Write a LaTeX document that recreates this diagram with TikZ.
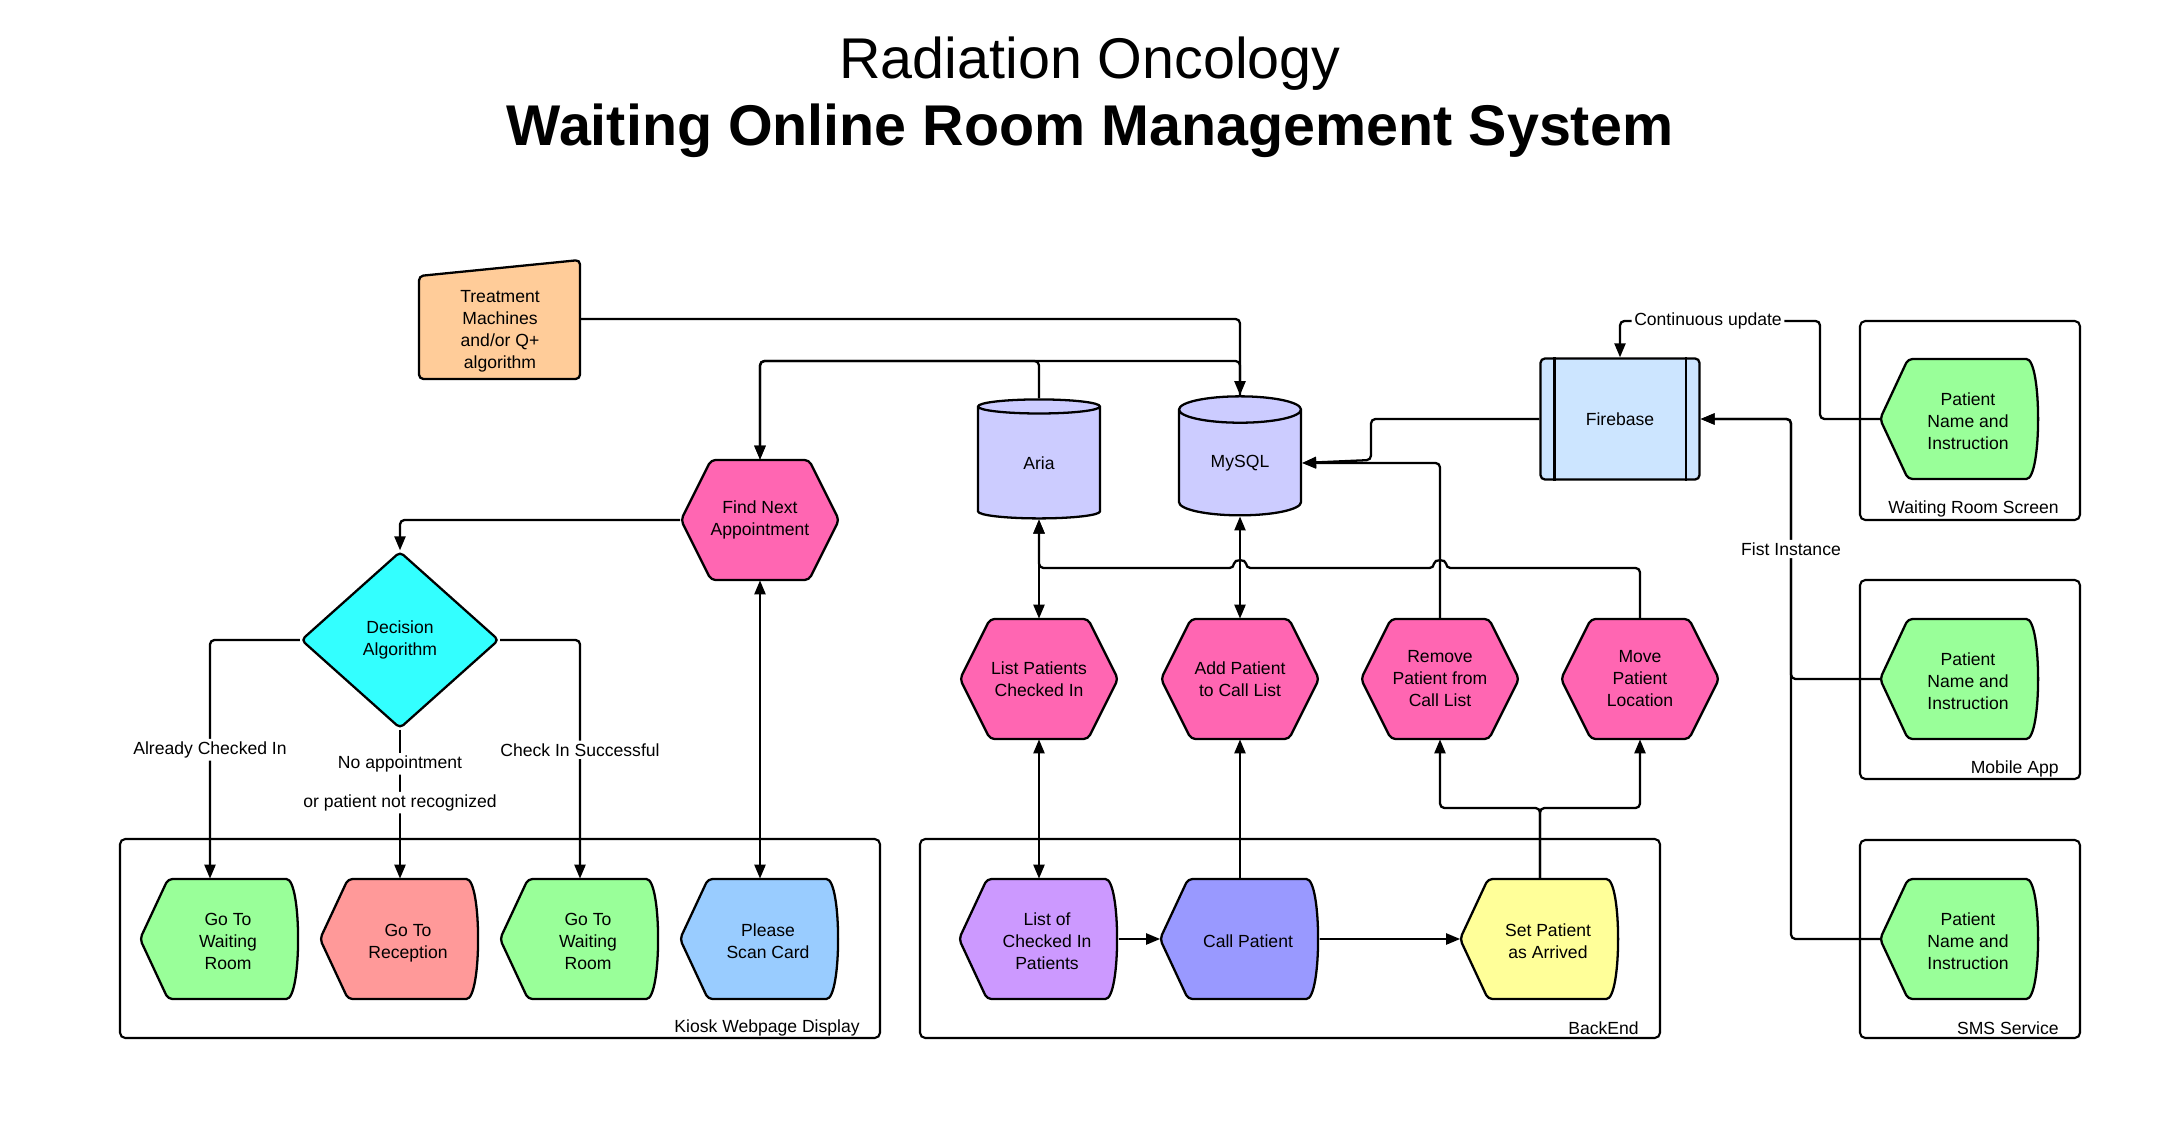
\documentclass[tikz,border=0pt]{standalone}
\usepackage{fontspec}
\setmainfont{Liberation Sans}
\usetikzlibrary{shapes.geometric,arrows.meta}

\definecolor{machineorange}{HTML}{FFCC99}
\definecolor{stephex}{HTML}{FF66B2}
\definecolor{decisioncyan}{HTML}{33FFFF}
\definecolor{okgreen}{HTML}{99FF99}
\definecolor{alertred}{HTML}{FF9999}
\definecolor{scanblue}{HTML}{99CCFF}
\definecolor{dblavender}{HTML}{CCCCFF}
\definecolor{listpurple}{HTML}{CC99FF}
\definecolor{callblue}{HTML}{9999FF}
\definecolor{arrivedyellow}{HTML}{FFFF99}
\definecolor{firebaseblue}{HTML}{CCE5FF}

\tikzset{
  outline/.style={draw=black, line width=1.3pt, rounded corners=2.5pt},
  boxtext/.style={align=center, inner sep=0pt, minimum width=3.18cm, minimum height=2.4cm},
  decision/.style={diamond, draw=black, line width=1.3pt, rounded corners=2.5pt, fill=decisioncyan, align=center, inner sep=0pt, minimum width=3.96cm, minimum height=3.54cm},
  database/.style={cylinder, shape border rotate=90, aspect=0.45, draw=black, line width=1.3pt, fill=dblavender, inner sep=0pt, minimum width=2.44cm, minimum height=2.38cm},
  process/.style={rectangle, draw=black, line width=1.3pt, rounded corners=2.5pt, fill=firebaseblue, minimum width=3.18cm, minimum height=2.42cm},
  link/.style={line width=1.3pt, rounded corners=2.5pt, ->},
  twoway/.style={line width=1.3pt, <->},
  lbl/.style={fill=white, inner sep=1.5pt},
  group/.style={draw=black, line width=1.2pt, rounded corners=3pt},
  grouplabel/.style={anchor=east, inner sep=0pt},
}

\newcommand{\hexat}[2]{%
  \begin{scope}[shift={(#1)}]
    \filldraw[outline, fill=#2] (-79,0) -- (-49,-60) -- (49,-60) -- (79,0) -- (49,60) -- (-49,60) -- cycle;
  \end{scope}}
\newcommand{\dispat}[2]{%
  \begin{scope}[shift={(#1)}]
    \filldraw[outline, fill=#2] (-80,0) -- (-52,-60) -- (62,-60) .. controls (82,-60) and (82,60) .. (62,60) -- (-52,60) -- cycle;
  \end{scope}}
\newcommand{\dtext}[1]{\hspace*{0.32cm}\raisebox{-2.5pt}[\height][\depth]{\begin{tabular}{@{}c@{}}#1\end{tabular}}}

\begin{document}
\begin{tikzpicture}[x=0.02cm, y=-0.02cm, >={Triangle[length=0.28cm, width=0.22cm]},
  every node/.style={font=\fontsize{10}{12.5}\selectfont}]
\useasboundingbox (0,0) rectangle (2167,1138);

\node[anchor=base, font=\fontsize{32.7}{39}\selectfont] (title) at (1090,79) {Radiation Oncology};
\node[anchor=base, font=\fontsize{32.7}{39}\selectfont\bfseries] (subtitle) at (1090,146) {Waiting Online Room Management System};

\draw[group] (120,839) rectangle (880,1038);
\draw[group] (920,839) rectangle (1660,1038);
\draw[group] (1860,321) rectangle (2080,520);
\draw[group] (1860,580) rectangle (2080,779);
\draw[group] (1860,840) rectangle (2080,1038);
\node[grouplabel] (kiosk) at (860,1028) {Kiosk Webpage Display};
\node[grouplabel] (backend) at (1639,1028) {BackEnd};
\node[grouplabel] (wrscreen) at (2059,509) {Waiting Room Screen};
\node[grouplabel] (mobileapp) at (2059,769) {Mobile App};
\node[grouplabel] (sms) at (2059,1028) {SMS Service};

\filldraw[outline, fill=machineorange] (419,276) -- (580,260) -- (580,379) -- (419,379) -- cycle;
\node[boxtext, minimum width=3.22cm] (machines) at (500,331) {Treatment\\Machines\\and/or Q+\\algorithm};

\node[database] (aria) at (1039,463) {Aria};
\node[database] (mysql) at (1240,463) {MySQL};
\node[process] (firebase) at (1620,419) {Firebase};
\draw[line width=1.3pt] ([xshift=0.3cm]firebase.north west) -- ([xshift=0.3cm]firebase.south west);
\draw[line width=1.3pt] ([xshift=-0.3cm]firebase.north east) -- ([xshift=-0.3cm]firebase.south east);

\hexat{760,520}{stephex}
\node[boxtext] (findnext) at (760,520) {Find Next\\Appointment};
\node[decision] (decide) at (400,640) {Decision\\Algorithm};

\hexat{1039,679}{stephex}
\node[boxtext] (listin) at (1039,679) {List Patients\\Checked In};
\hexat{1240,679}{stephex}
\node[boxtext] (addcall) at (1240,679) {Add Patient\\to Call List};
\hexat{1440,679}{stephex}
\node[boxtext] (removecall) at (1440,679) {Remove\\Patient from\\Call List};
\hexat{1640,679}{stephex}
\node[boxtext] (movepat) at (1640,679) {Move\\Patient\\Location};

\dispat{220,939}{okgreen}
\node[boxtext] (gowait1) at (220,939) {\dtext{Go To\\Waiting\\Room}};
\dispat{400,939}{alertred}
\node[boxtext] (goreception) at (400,939) {\dtext{Go To\\Reception}};
\dispat{580,939}{okgreen}
\node[boxtext] (gowait2) at (580,939) {\dtext{Go To\\Waiting\\Room}};
\dispat{760,939}{scanblue}
\node[boxtext] (scancard) at (760,939) {\dtext{Please\\Scan Card}};

\dispat{1039,939}{listpurple}
\node[boxtext] (listof) at (1039,939) {\dtext{List of\\Checked In\\Patients}};
\dispat{1240,939}{callblue}
\node[boxtext] (callpat) at (1240,939) {\dtext{Call Patient}};
\dispat{1540,939}{arrivedyellow}
\node[boxtext] (arrived) at (1540,939) {\dtext{Set Patient\\as Arrived}};

\dispat{1960,419}{okgreen}
\node[boxtext] (wrpatient) at (1960,419) {\dtext{Patient\\Name and\\Instruction}};
\dispat{1960,679}{okgreen}
\node[boxtext] (mobpatient) at (1960,679) {\dtext{Patient\\Name and\\Instruction}};
\dispat{1960,939}{okgreen}
\node[boxtext] (smspatient) at (1960,939) {\dtext{Patient\\Name and\\Instruction}};

\draw[link] ([yshift=0.24cm]machines.east) -| (mysql.north);
\draw[link] (aria.north) -- (aria.north |- 0,361) -| (findnext.north);
\draw[link] (mysql.north) -- (mysql.north |- 0,361) -| (findnext.north);
\draw[link] (findnext.west) -| (decide.north);
\draw[link] (decide.west) -| ([xshift=-0.2cm]gowait1.north) node[lbl, pos=0.73] {Already Checked In};
\draw[link] (decide.south) -- (goreception.north)
  node[lbl, pos=0.23] {No appointment}
  node[lbl, pos=0.49] {or patient not recognized};
\draw[link] (decide.east) -| (gowait2.north) node[lbl, pos=0.73] {Check In Successful};
\draw[twoway] (findnext.south) -- (scancard.north);

\draw[twoway] (aria.south) -- (listin.north);
\draw[twoway] (mysql.south) -- (addcall.north);
\draw[twoway] (listin.south) -- (listof.north);
\draw[link] (callpat.north) -- (addcall.south);
\draw[link] (listof.east) -- (callpat.west);
\draw[link] (callpat.east) -- (arrived.west);
\draw[link] (arrived.north) -- (arrived.north |- 0,808) -| (removecall.south);
\draw[link] (arrived.north) -- (arrived.north |- 0,808) -| (movepat.south);
\draw[link] (removecall.north) |- (mysql.east);
\draw[link] (firebase.west) -| (1371,460) -- (mysql.east);
\draw[link] (movepat.north) |- (1446,568) .. controls (1446,559) and (1434,559) .. (1434,568)
  -- (1246,568) .. controls (1246,559) and (1234,559) .. (1234,568)
  -- (aria.south |- 0,568) -- (aria.south);

\draw[link] (wrpatient.west) -- (1820,419) -- (1820,321) -- node[lbl, pos=0.56] {Continuous update} (firebase.north |- 0,321) -- (firebase.north);
\draw[link] (smspatient.west) -- (1791,939) -- (1791,419) -- (firebase.east);
\draw[link] (mobpatient.west) -- (1791,679) -- node[lbl] {Fist Instance} (1791,419) -- (firebase.east);
\end{tikzpicture}
\end{document}
